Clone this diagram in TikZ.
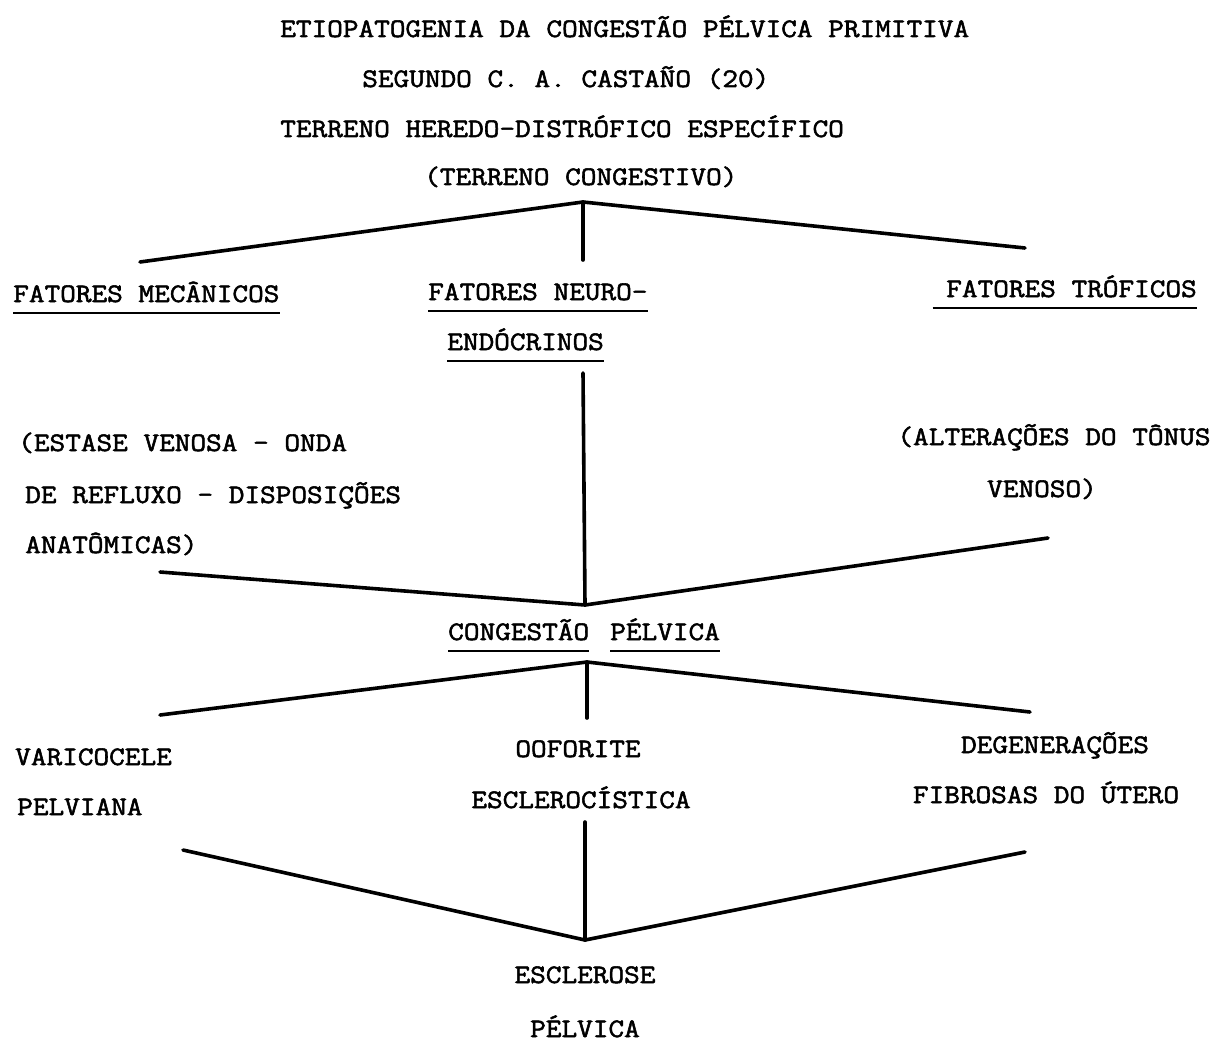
\documentclass[tikz,border=0pt]{standalone}
\usepackage{fontspec}
\newfontfamily\typew{Latin Modern Mono}[FakeBold=2, FakeStretch=1.14]
\begin{document}
\begin{tikzpicture}[x=0.75pt, y=-0.75pt,
  txt/.style={inner sep=0pt, font=\typew\fontsize{20}{24}\selectfont, anchor=base west},
  blk/.style={txt, anchor=base},
  link/.style={line width=2.7pt, line cap=round},
  uline/.style={line width=1.4pt}]
  \useasboundingbox (0,0) rectangle (1226,1059);
  % Title
  \node[txt] (title) at (280,37) {ETIOPATOGENIA DA CONGESTÃO PÉLVICA PRIMITIVA};
  \node[txt] (author) at (362,87) {SEGUNDO C. A. CASTAÑO (20)};
  \node[txt] (terreno) at (280,137) {TERRENO HEREDO-DISTRÓFICO ESPECÍFICO};
  \node[txt] (congest) at (424,185) {(TERRENO CONGESTIVO)};
  % Top fork
  \coordinate (fork1) at (583,202);
  \coordinate (mecEnd) at (140,262);
  \coordinate (troEnd) at (1025,248);
  \coordinate (neuEnd) at (583,260);
  \draw[link] (mecEnd) -- (fork1) -- (troEnd);
  \draw[link] (fork1) -- (neuEnd);
  % Factors
  \node[txt] (mec) at (13,302) {FATORES MECÂNICOS};
  \node[txt] (neu) at (428,300) {FATORES NEURO-};
  \node[txt] (endo) at (447,350) {ENDÓCRINOS};
  \node[txt] (tro) at (946,297) {FATORES TRÓFICOS};
  \foreach \n in {mec,neu,endo}
    \draw[uline] ([yshift=-8pt]\n.base west) -- ([yshift=-8pt]\n.base east);
  \draw[uline] ([xshift=-10pt,yshift=-8pt]tro.base west) -- ([yshift=-8pt]tro.base east);
  % Descriptions
  \node[txt] (mec1) at (18,451) {(ESTASE VENOSA - ONDA};
  \node[txt] (mec2) at (25,503) {DE REFLUXO - DISPOSIÇÕES};
  \node[txt] (mec3) at (25,553) {ANATÔMICAS)};
  \node[blk] (tro1) at (1054,445) {(ALTERAÇÕES DO TÔNUS};
  \node[blk] (tro2) at (1042,497) {VENOSO)};
  % Convergence on pelvic congestion
  \coordinate (neuTop) at (583,373);
  \coordinate (fork2) at (585,605);
  \coordinate (mecIn) at (160,572);
  \coordinate (troIn) at (1048,538);
  \draw[link] (mecIn) -- (fork2) -- (troIn);
  \draw[link] (neuTop) -- (fork2);
  \node[txt] (cong) at (448,640) {CONGESTÃO};
  \node[txt] (pelv) at (610,640) {PÉLVICA};
  \foreach \n in {cong,pelv}
    \draw[uline] ([yshift=-8pt]\n.base west) -- ([yshift=-8pt]\n.base east);
  % Consequences
  \coordinate (fork3) at (587,662);
  \coordinate (varEnd) at (160,715);
  \coordinate (degEnd) at (1030,712);
  \coordinate (oofEnd) at (587,718);
  \draw[link] (varEnd) -- (fork3) -- (degEnd);
  \draw[link] (fork3) -- (oofEnd);
  \node[txt] (var1) at (15,765) {VARICOCELE};
  \node[txt] (var2) at (17,815) {PELVIANA};
  \node[blk] (oof1) at (578,757) {OOFORITE};
  \node[blk] (oof2) at (581,808) {ESCLEROCÍSTICA};
  \node[blk] (deg1) at (1055,753) {DEGENERAÇÕES};
  \node[blk] (deg2) at (1046,803) {FIBROSAS DO ÚTERO};
  % Final sclerosis
  \coordinate (varOut) at (183,850);
  \coordinate (degOut) at (1025,852);
  \coordinate (oofOut) at (585,822);
  \coordinate (fork4) at (585,940);
  \draw[link] (varOut) -- (fork4) -- (degOut);
  \draw[link] (oofOut) -- (fork4);
  \node[blk] (esc1) at (585,983) {ESCLEROSE};
  \node[blk] (esc2) at (585,1037) {PÉLVICA};
\end{tikzpicture}
\end{document}
